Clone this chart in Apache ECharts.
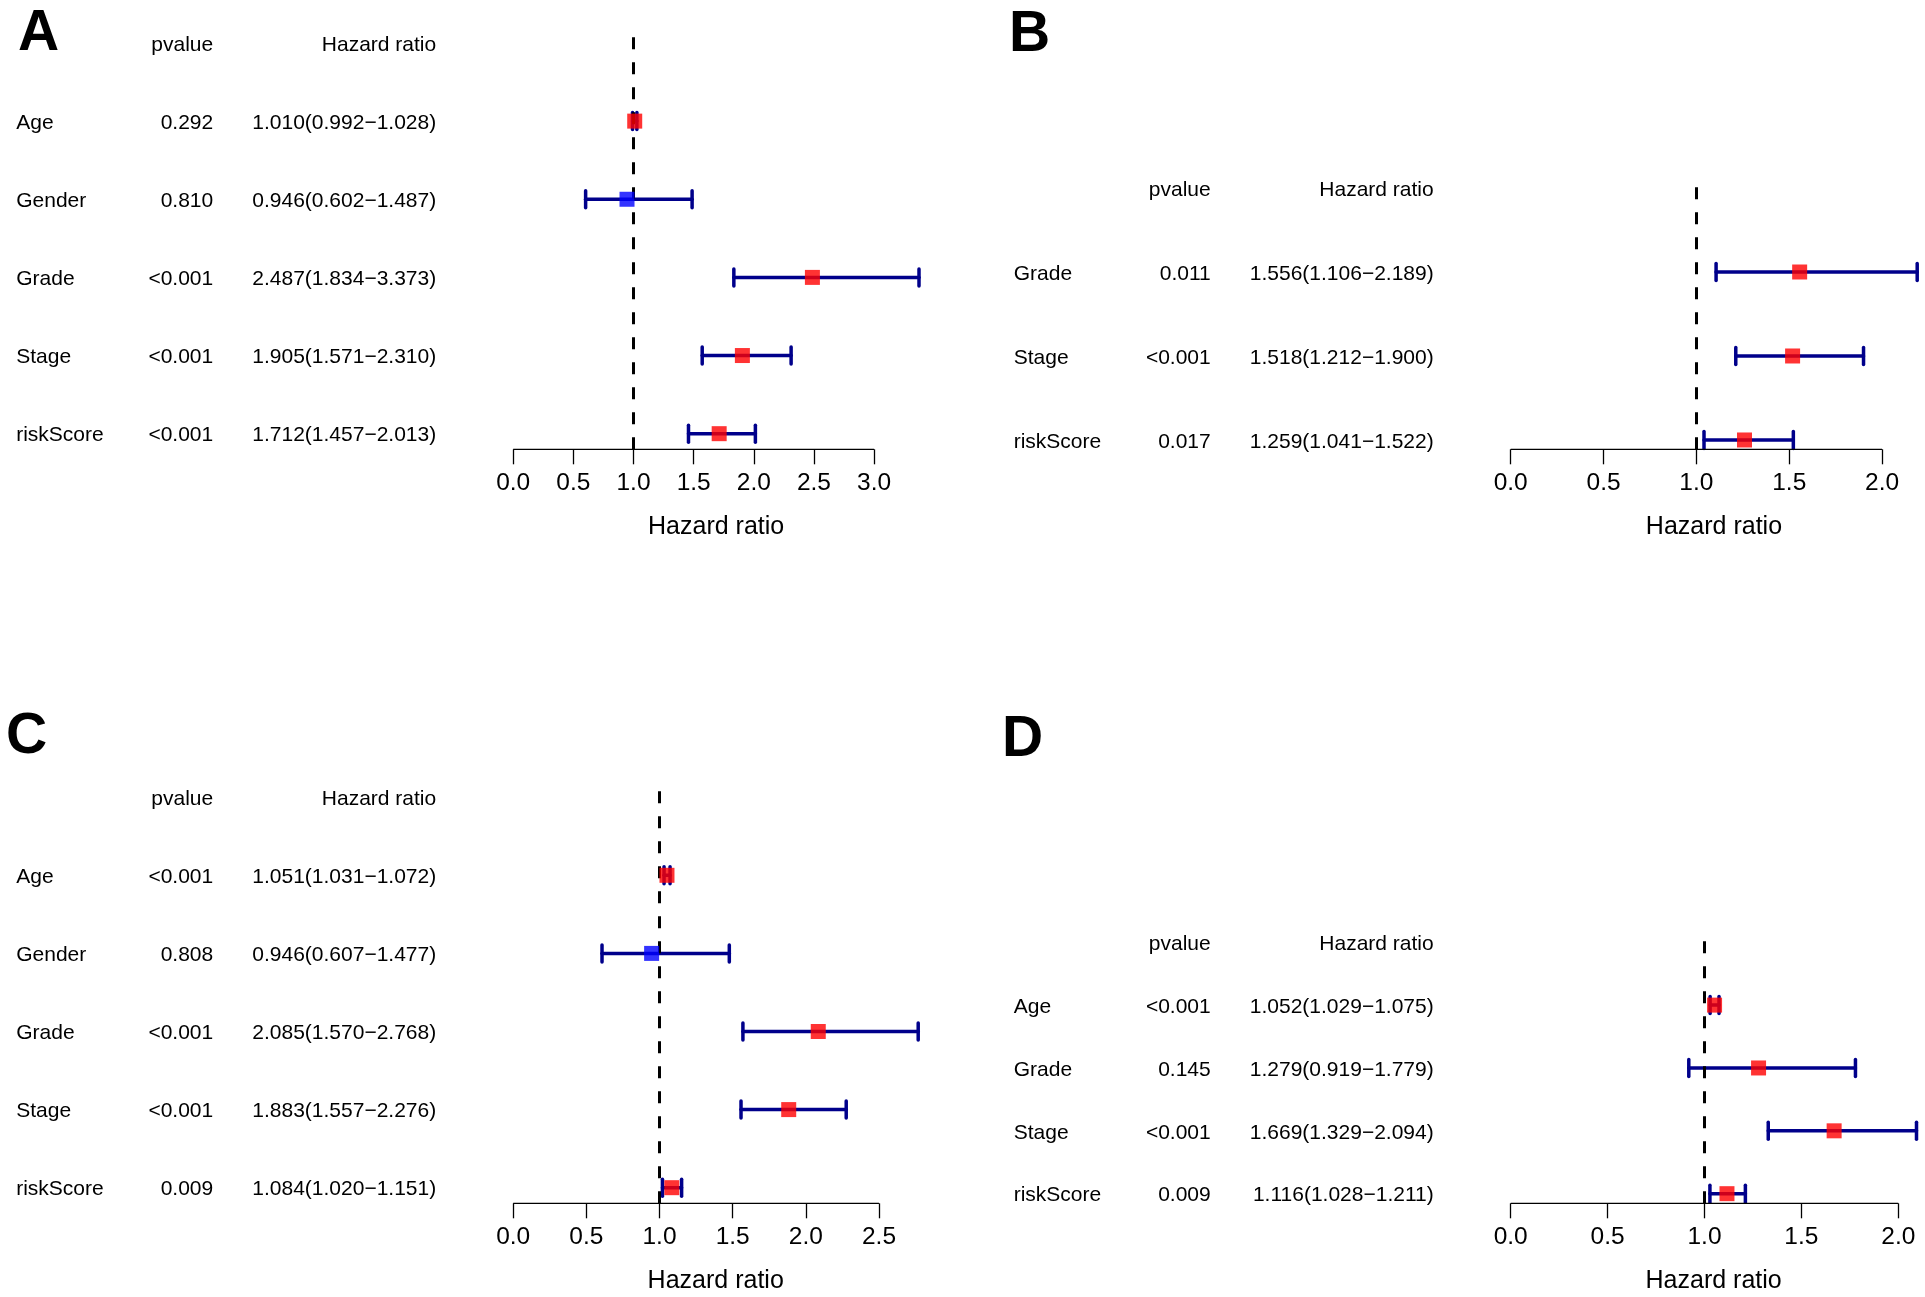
<!DOCTYPE html>
<html>
<head>
<meta charset="utf-8">
<script src="https://cdn.jsdelivr.net/npm/echarts@6/dist/echarts.min.js"></script>
<style>
html,body{margin:0;padding:0;background:#fff;}
#chart{width:1925px;height:1297px;}
</style>
</head>
<body>
<div id="chart"></div>
<script>
// ---------- DATA ----------
// Panel A
const labelsA = ['Age', 'Gender', 'Grade', 'Stage', 'riskScore'];
const pvalA   = ['0.292', '0.810', '<0.001', '<0.001', '<0.001'];
const hrA     = [1.010, 0.946, 2.487, 1.905, 1.712];
const lowA    = [0.992, 0.602, 1.834, 1.571, 1.457];
const highA   = [1.028, 1.487, 3.373, 2.310, 2.013];
const ticksA  = [0, 0.5, 1, 1.5, 2, 2.5, 3];
// Panel B
const labelsB = ['Grade', 'Stage', 'riskScore'];
const pvalB   = ['0.011', '<0.001', '0.017'];
const hrB     = [1.556, 1.518, 1.259];
const lowB    = [1.106, 1.212, 1.041];
const highB   = [2.189, 1.900, 1.522];
const ticksB  = [0, 0.5, 1, 1.5, 2];
// Panel C
const labelsC = ['Age', 'Gender', 'Grade', 'Stage', 'riskScore'];
const pvalC   = ['<0.001', '0.808', '<0.001', '<0.001', '0.009'];
const hrC     = [1.051, 0.946, 2.085, 1.883, 1.084];
const lowC    = [1.031, 0.607, 1.570, 1.557, 1.020];
const highC   = [1.072, 1.477, 2.768, 2.276, 1.151];
const ticksC  = [0, 0.5, 1, 1.5, 2, 2.5];
// Panel D
const labelsD = ['Age', 'Grade', 'Stage', 'riskScore'];
const pvalD   = ['<0.001', '0.145', '<0.001', '0.009'];
const hrD     = [1.052, 1.279, 1.669, 1.116];
const lowD    = [1.029, 0.919, 1.329, 1.028];
const highD   = [1.075, 1.779, 2.094, 1.211];
const ticksD  = [0, 0.5, 1, 1.5, 2];
const panelLetters = ['A', 'B', 'C', 'D'];
const headerP = 'pvalue';
const headerHR = 'Hazard ratio';
const axisTitle = 'Hazard ratio';
const refLine = 1;

// ---------- LAYOUT ----------
const FONT = "'Liberation Sans', Arial, Helvetica, sans-serif";
const layouts = [
  {left: 513.2, top: 34,    width: 405.8, height: 415.3, yMin: 0.8,   yMax: 6.115, lx: 18,   ly: 6},
  {left: 1510.7, top: 186,  width: 406.5, height: 263.3, yMin: 0.889, yMax: 4.024, lx: 1009, ly: 7},
  {left: 513.2, top: 789.4, width: 405.0, height: 413.9, yMin: 0.8,   yMax: 6.1,   lx: 6,    ly: 709},
  {left: 1510.7, top: 941,  width: 405.8, height: 262.3, yMin: 0.847, yMax: 5.02,  lx: 1002, ly: 712}
];
const panels = [
  {labels: labelsA, pval: pvalA, hr: hrA, low: lowA, high: highA, ticks: ticksA},
  {labels: labelsB, pval: pvalB, hr: hrB, low: lowB, high: highB, ticks: ticksB},
  {labels: labelsC, pval: pvalC, hr: hrC, low: lowC, high: highC, ticks: ticksC},
  {labels: labelsD, pval: pvalD, hr: hrD, low: lowD, high: highD, ticks: ticksD}
];

const fmtHR = (h, l, u) => h.toFixed(3) + '(' + l.toFixed(3) + '\u2212' + u.toFixed(3) + ')';
const TXT = 21;
const tok = (w, al) => ({width: w, align: al, fontSize: TXT, fontFamily: FONT, color: '#000', padding: [4, 0, 0, 0]});

const grids = [], xAxes = [], yAxes = [], series = [], titles = [];

panels.forEach((p, k) => {
  const L = layouts[k];
  const n = p.labels.length;
  grids.push({left: L.left, top: L.top, width: L.width, height: L.height, containLabel: false});
  xAxes.push({
    type: 'value', gridIndex: k, min: 0, max: Math.max(...p.high),
    axisLine: {show: false},
    splitLine: {show: false},
    axisTick: {show: true, length: 15, customValues: p.ticks, lineStyle: {color: '#000', width: 1.3}},
    axisLabel: {show: true, customValues: p.ticks, margin: 21, fontSize: 24.5, color: '#000', fontFamily: FONT,
      formatter: v => v.toFixed(1)},
    name: axisTitle, nameLocation: 'middle', nameGap: 65,
    nameTextStyle: {fontSize: 25, color: '#000', fontFamily: FONT}
  });
  const rowVals = [];
  for (let v = 1; v <= n + 1; v++) rowVals.push(v);
  yAxes.push({
    type: 'value', gridIndex: k, min: L.yMin, max: L.yMax,
    axisLine: {show: false}, axisTick: {show: false}, splitLine: {show: false},
    axisLabel: {
      show: true, customValues: rowVals, margin: 77, fontFamily: FONT, fontSize: TXT, color: '#000',
      formatter: v => {
        const r = Math.round(v);
        if (r === n + 1) return '{n| }{p|' + headerP + '}{h|' + headerHR + '}';
        const i = n - r;
        return '{n|' + p.labels[i] + '}{p|' + p.pval[i] + '}{h|' + fmtHR(p.hr[i], p.low[i], p.high[i]) + '}';
      },
      rich: {n: tok(110, 'left'), p: tok(87, 'right'), h: tok(223, 'right')}
    }
  });
  // axis line from first to last tick + reference dashed line
  series.push({
    type: 'line', xAxisIndex: k, yAxisIndex: k, silent: true, symbol: 'none', clip: false, z: 2,
    data: [[p.ticks[0], L.yMin], [p.ticks[p.ticks.length - 1], L.yMin]],
    lineStyle: {color: '#000', width: 1.3},
    markLine: {
      silent: true, symbol: ['none', 'none'], label: {show: false},
      lineStyle: {color: '#000', width: 3, type: [12, 13]},
      data: [{xAxis: refLine}]
    }
  });
  // error bars
  series.push({
    type: 'custom', xAxisIndex: k, yAxisIndex: k, silent: true, z: 1,
    data: p.hr.map((h, i) => [p.low[i], p.high[i], n - i]),
    renderItem: (params, api) => {
      const y = api.value(2);
      const a = api.coord([api.value(0), y]);
      const b = api.coord([api.value(1), y]);
      const cap = 8.5;
      const st = {stroke: '#00008B', lineWidth: 3.5, lineCap: 'round'};
      return {type: 'group', children: [
        {type: 'line', shape: {x1: a[0], y1: a[1], x2: b[0], y2: b[1]}, style: st},
        {type: 'line', shape: {x1: a[0], y1: a[1] - cap, x2: a[0], y2: a[1] + cap}, style: st},
        {type: 'line', shape: {x1: b[0], y1: b[1] - cap, x2: b[0], y2: b[1] + cap}, style: st}
      ]};
    }
  });
  // HR points
  series.push({
    type: 'scatter', xAxisIndex: k, yAxisIndex: k, silent: true, z: 5,
    symbol: 'rect', symbolSize: 15,
    data: p.hr.map((h, i) => ({value: [h, n - i], itemStyle: {color: h > refLine ? '#FF0000' : '#0000FF'}}))
  });
  titles.push({
    text: panelLetters[k], left: L.lx, top: L.ly, padding: 0,
    textStyle: {fontSize: 57, fontWeight: 'bold', color: '#000', fontFamily: FONT}
  });
});

const chart = echarts.init(document.getElementById('chart'), null, {renderer: 'canvas'});
chart.setOption({
  animation: false,
  backgroundColor: '#fff',
  title: titles,
  grid: grids,
  xAxis: xAxes,
  yAxis: yAxes,
  series: series
});
</script>
</body>
</html>
